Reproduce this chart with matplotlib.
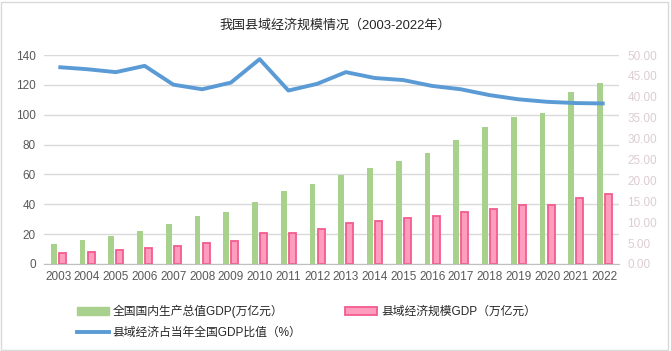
import matplotlib
matplotlib.use("Agg")
import matplotlib.pyplot as plt
import numpy as np
from matplotlib.patches import Rectangle
from matplotlib.lines import Line2D
from matplotlib.patches import Patch

plt.rcParams['font.family'] = ['Liberation Sans', 'Noto Sans CJK SC', 'DejaVu Sans']

years = ['2003', '2004', '2005', '2006', '2007', '2008', '2009', '2010', '2011', '2012',
         '2013', '2014', '2015', '2016', '2017', '2018', '2019', '2020', '2021', '2022']
national_gdp = [13.7, 16.2, 18.7, 21.9, 27.0, 31.9, 34.9, 41.2, 48.8, 53.9,
                59.3, 64.4, 68.9, 74.6, 83.2, 91.9, 98.7, 101.4, 114.9, 121.0]
county_gdp = [7.2, 8.0, 9.4, 10.5, 11.8, 13.8, 15.2, 20.5, 20.5, 23.2,
              27.2, 29.0, 30.6, 31.9, 34.6, 37.1, 39.3, 39.3, 44.4, 46.7]
county_share = [47.1, 46.6, 45.9, 47.4, 42.9, 41.8, 43.4, 49.0, 41.5, 43.1,
                45.9, 44.5, 44.0, 42.6, 41.8, 40.4, 39.4, 38.8, 38.5, 38.4]

title = '我国县域经济规模情况（2003-2022年）'
label_nat = '全国国内生产总值GDP(万亿元）'
label_cty = '县域经济规模GDP（万亿元）'
label_share = '县域经济占当年全国GDP比值（%）'

green = '#a9d18e'
pink_face = '#ff9dbf'
pink_edge = '#f25c8c'
blue = '#5b9bd5'

fig = plt.figure(figsize=(6.71, 3.51), dpi=100)
fig.patches.append(Rectangle((0.002, 0.004), 0.994, 0.99, transform=fig.transFigure,
                             fill=False, edgecolor='#d9d9d9', linewidth=1))

ax = fig.add_axes([44/671, 1-264/351, (619-44)/671, (264-55)/351])
x = np.arange(len(years))
ax.bar(x - 0.16, national_gdp, width=0.2, color=green, zorder=2)
ax.bar(x + 0.14, county_gdp, width=0.24, color=pink_face, edgecolor=pink_edge,
       linewidth=1.3, zorder=2)
ax.set_xlim(-0.5, len(years) - 0.5)
ax.set_ylim(0, 140)
ax.set_yticks(np.arange(0, 141, 20))
ax.set_xticks(x)
ax.set_xticklabels(years)
ax.grid(axis='y', color='#d9d9d9', linewidth=1, zorder=0)
ax.set_axisbelow(True)
for s in ['top', 'right', 'left']:
    ax.spines[s].set_visible(False)
ax.spines['bottom'].set_color('#bfbfbf')
ax.tick_params(axis='both', length=0, labelsize=8.5, colors='#595959')
ax.tick_params(axis='x', pad=5)
ax.tick_params(axis='y', pad=6)

ax2 = ax.twinx()
ax2.plot(x, county_share, color=blue, linewidth=2.8, solid_capstyle='butt', zorder=3)
ax2.set_ylim(0, 50)
ax2.set_yticks(np.arange(0, 50.1, 5))
ax2.set_yticklabels([f'{v:.2f}' for v in np.arange(0, 50.1, 5)])
for s in ['top', 'right', 'left', 'bottom']:
    ax2.spines[s].set_visible(False)
ax2.tick_params(axis='y', length=0, labelsize=8.5, colors='#dccdd1', pad=6)

fig.text(335/671, 1-25/351, title, ha='center', va='center', fontsize=9.4, color='#262626')

handles = [Patch(facecolor=green, edgecolor=green),
           Line2D([0], [0], color=blue, linewidth=2.8),
           Patch(facecolor=pink_face, edgecolor=pink_edge, linewidth=1.3)]
labels = [label_nat, label_share, label_cty]
leg = fig.legend(handles, labels, ncol=2, loc='upper left',
                 bbox_to_anchor=(72/671, 1-300/351), frameon=False,
                 fontsize=8.5, handlelength=2.7, handleheight=0.6, handletextpad=0.35,
                 columnspacing=3.7, labelspacing=0.75, borderaxespad=0)
for t in leg.get_texts():
    t.set_color('#262626')

fig.savefig('out.png', dpi=100)
